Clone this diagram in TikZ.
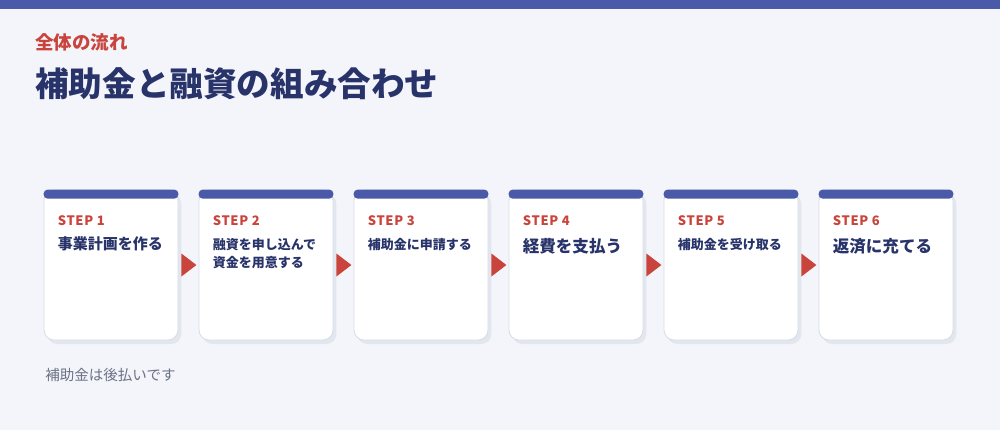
\documentclass[tikz,border=0pt]{standalone}
\usepackage{fontspec}
\setmainfont{Noto Sans CJK JP}
\usetikzlibrary{positioning,shadows}
\definecolor{barblue}{HTML}{4A5AA8}
\definecolor{stepred}{HTML}{C9443C}
\definecolor{navy}{HTML}{28336A}
\definecolor{pagebg}{HTML}{F4F5FA}
\definecolor{cardline}{HTML}{D6DCE7}
\definecolor{cardshadow}{HTML}{E1E6EF}
\definecolor{notegray}{HTML}{6B7186}

\begin{document}
\begin{tikzpicture}[x=0.75pt,y=-0.75pt,node distance=116.25pt,on grid,
card/.style={rectangle,draw=cardline,line width=0.6pt,fill=white,
    minimum width=100.5pt,minimum height=112.5pt,rounded corners=7.5pt,
    drop shadow={shadow xshift=2.5pt,shadow yshift=-3pt,fill=cardshadow,opacity=1}},
cardbar/.style={fill=barblue,rounded corners=3pt},
steplbl/.style={anchor=base west,inner sep=0pt,text=stepred,
    font=\fontsize{9.75}{12}\selectfont\bfseries\addfontfeature{LetterSpace=5}},
steptxt/.style={anchor=base west,inner sep=0pt,text=navy,align=left,
    font=\fontsize{11.25}{13.5}\selectfont\bfseries},
smalltxt/.style={steptxt,font=\fontsize{9.75}{13.5}\selectfont\bfseries},
bigtxt/.style={steptxt,font=\fontsize{12.4}{15}\selectfont\bfseries},
nextarrow/.style={fill=stepred}
]
\useasboundingbox (0,0) rectangle (1000,430);
\fill[pagebg] (0,0) rectangle (1000,430);
\fill[barblue] (0,0) rectangle (1000,9);

% heading
\node[anchor=base west,inner sep=0pt,text=stepred,
  font=\fontsize{13.9}{16}\selectfont\bfseries] (kicker) at (35,49) {全体の流れ};
\node[anchor=base west,inner sep=0pt,text=navy,
  font=\fontsize{25.2}{30}\selectfont\bfseries] (title) at (35,96) {補助金と融資の組み合わせ};

% cards
\node[card] (s1) at (111,265) {};
\node[card] (s2) [right=of s1] {};
\node[card] (s3) [right=of s2] {};
\node[card] (s4) [right=of s3] {};
\node[card] (s5) [right=of s4] {};
\node[card] (s6) [right=of s5] {};

\fill[cardbar] (s1.north west) rectangle ([yshift=-6.75pt]s1.north east);
\fill[cardbar] (s2.north west) rectangle ([yshift=-6.75pt]s2.north east);
\fill[cardbar] (s3.north west) rectangle ([yshift=-6.75pt]s3.north east);
\fill[cardbar] (s4.north west) rectangle ([yshift=-6.75pt]s4.north east);
\fill[cardbar] (s5.north west) rectangle ([yshift=-6.75pt]s5.north east);
\fill[cardbar] (s6.north west) rectangle ([yshift=-6.75pt]s6.north east);

\node[steplbl] (l1) at ([shift={(14,36)}]s1.north west) {STEP 1};
\node[steplbl] (l2) at ([shift={(14,36)}]s2.north west) {STEP 2};
\node[steplbl] (l3) at ([shift={(14,36)}]s3.north west) {STEP 3};
\node[steplbl] (l4) at ([shift={(14,36)}]s4.north west) {STEP 4};
\node[steplbl] (l5) at ([shift={(14,36)}]s5.north west) {STEP 5};
\node[steplbl] (l6) at ([shift={(14,36)}]s6.north west) {STEP 6};

\node[steptxt] (t1) at ([shift={(14,60)}]s1.north west) {事業計画を作る};
% base of a two-line node is its last line
\node[smalltxt] (t2) at ([shift={(14,77.5)}]s2.north west) {融資を申し込んで\\資金を用意する};
\node[smalltxt] (t3) at ([shift={(14,59.5)}]s3.north west) {補助金に申請する};
\node[bigtxt] (t4) at ([shift={(14,63)}]s4.north west) {経費を支払う};
\node[smalltxt] (t5) at ([shift={(14,59.5)}]s5.north west) {補助金を受け取る};
\node[bigtxt] (t6) at ([shift={(14,63)}]s6.north west) {返済に充てる};

% arrows between cards
\fill[nextarrow] ([shift={(3,-11.5)}]s1.east) -- ([shift={(18,0)}]s1.east) -- ([shift={(3,11.5)}]s1.east) -- cycle;
\fill[nextarrow] ([shift={(3,-11.5)}]s2.east) -- ([shift={(18,0)}]s2.east) -- ([shift={(3,11.5)}]s2.east) -- cycle;
\fill[nextarrow] ([shift={(3,-11.5)}]s3.east) -- ([shift={(18,0)}]s3.east) -- ([shift={(3,11.5)}]s3.east) -- cycle;
\fill[nextarrow] ([shift={(3,-11.5)}]s4.east) -- ([shift={(18,0)}]s4.east) -- ([shift={(3,11.5)}]s4.east) -- cycle;
\fill[nextarrow] ([shift={(3,-11.5)}]s5.east) -- ([shift={(18,0)}]s5.east) -- ([shift={(3,11.5)}]s5.east) -- cycle;

% note
\node[anchor=base west,inner sep=0pt,text=notegray,
  font=\fontsize{10.9}{13}\selectfont] (note) at (45,380) {補助金は後払いです};
\end{tikzpicture}
\end{document}
